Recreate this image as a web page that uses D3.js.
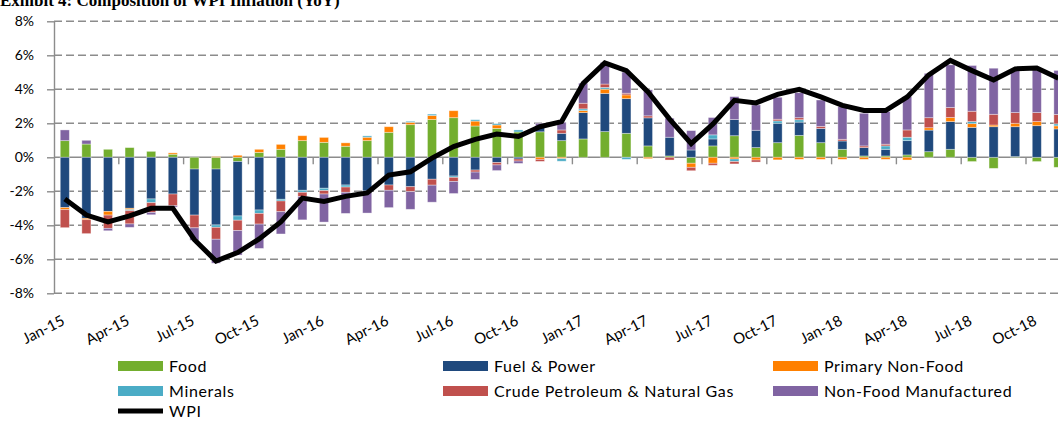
<!DOCTYPE html>
<html>
<head>
<meta charset="utf-8">
<title>Composition of WPI Inflation (YoY)</title>
<script src="https://d3js.org/d3.v7.min.js"></script>
<style>
  body { margin: 0; background: #fff; }
  svg { display: block; }
</style>
</head>
<body>
<div id="chart"></div>
<script>
// months shown on the category axis (the picture is cut just after Nov-18)
var months = ["Jan-15","Feb-15","Mar-15","Apr-15","May-15","Jun-15","Jul-15","Aug-15","Sep-15","Oct-15","Nov-15","Dec-15",
              "Jan-16","Feb-16","Mar-16","Apr-16","May-16","Jun-16","Jul-16","Aug-16","Sep-16","Oct-16","Nov-16","Dec-16",
              "Jan-17","Feb-17","Mar-17","Apr-17","May-17","Jun-17","Jul-17","Aug-17","Sep-17","Oct-17","Nov-17","Dec-17",
              "Jan-18","Feb-18","Mar-18","Apr-18","May-18","Jun-18","Jul-18","Aug-18","Sep-18","Oct-18","Nov-18"];

// contributions, percentage points
var food = [0.98,0.78,0.47,0.57,0.35,0.18,-0.69,-0.69,-0.25,0.29,0.47,0.98,
            0.88,0.65,0.98,1.47,1.92,2.22,2.33,1.84,1.70,1.49,1.50,0.98,
            1.08,1.51,1.41,0.67,0.08,-0.35,0.67,1.27,0.57,0.86,1.29,0.86,
            0.47,0.08,0.08,0.14,0.33,0.47,-0.25,-0.65,0.04,-0.25,-0.59];
var fuel = [-2.96,-3.59,-3.18,-3.00,-2.45,-2.16,-2.71,-3.29,-3.20,-3.10,-2.47,-1.94,
            -1.82,-1.63,-1.98,-1.63,-1.73,-1.29,-1.10,-0.75,-0.31,-0.10,0.30,0.43,
            1.55,2.25,2.04,1.65,1.10,0.43,0.41,0.95,1.02,1.14,0.78,0.84,
            0.49,0.49,0.39,0.84,1.27,1.63,1.76,1.80,1.76,1.86,1.67];
var primaryNonFood = [-0.12,-0.08,-0.22,-0.08,0,0.08,0,0.04,0.12,0.18,0.29,0.29,
            0.29,0.20,0.20,0.33,0.14,0.24,0.41,0.29,0.20,0,-0.12,-0.08,
            0.12,0.25,0.22,-0.08,0,-0.24,-0.35,-0.10,-0.16,-0.15,-0.12,-0.12,
            -0.12,-0.12,-0.12,-0.16,0.14,0.24,0.22,0.10,0.20,0.24,0.18];
var minerals = [0,0,0,-0.06,-0.22,0,0,-0.14,-0.25,-0.20,-0.10,-0.12,
            -0.14,-0.12,0.08,0,0.06,0.08,-0.08,0.08,0.08,0.12,0,-0.15,
            0.10,0.10,-0.12,0,0,0,0.24,-0.15,0,0.14,0.14,0,
            0,0,0.20,0.20,0,0,0.12,0,0,0,0.12];
var crude = [-1.06,-0.82,-0.78,-0.78,-0.57,-0.69,-0.75,-0.70,-0.61,-0.63,-0.63,-0.25,
            -0.20,-0.31,-0.05,-0.31,-0.29,-0.35,-0.24,-0.12,-0.14,-0.12,-0.12,0.20,
            0.33,0.20,0.10,0.12,-0.16,-0.20,-0.12,-0.14,-0.12,0.10,0.12,0.12,
            0.10,0.10,0.10,0.43,0.59,0.59,0.61,0.63,0.63,0.53,0.55];
var nonFoodMfg = [0.63,0.22,-0.14,-0.20,-0.14,-0.08,-0.73,-1.41,-1.44,-1.43,-1.31,-1.37,
            -1.65,-1.24,-1.25,-1.02,-1.04,-1.00,-0.71,-0.43,-0.33,-0.14,0.20,0.45,
            1.18,1.27,1.24,1.53,1.12,1.14,1.02,1.35,1.49,1.29,1.47,1.55,
            1.92,1.92,1.92,1.96,2.61,2.51,2.69,2.71,2.47,2.51,2.59];
// headline WPI inflation, %
var wpi = [-2.45,-3.40,-3.80,-3.45,-3.00,-3.00,-4.85,-6.10,-5.60,-4.80,-3.80,-2.40,
           -2.60,-2.30,-2.10,-1.05,-0.85,-0.05,0.63,1.05,1.37,1.22,1.80,2.10,
           4.35,5.55,5.10,3.85,2.25,0.80,1.95,3.35,3.20,3.70,4.00,3.55,
           3.05,2.75,2.75,3.55,4.85,5.70,5.10,4.55,5.20,5.25,4.65];

var seriesNames = ["Food", "Fuel & Power", "Primary Non-Food", "Minerals", "Crude Petroleum & Natural Gas", "Non-Food Manufactured"];
var seriesColors = ["#73AE2E", "#1F497D", "#FF8000", "#4BACC6", "#C0504D", "#8064A2"];
var yTicks = [-8, -6, -4, -2, 0, 2, 4, 6, 8];
var xLabelMonths = months.filter(function(d, i) { return i % 3 === 0; });

var width = 1058, height = 421;
var left = 54, step = 21.6;

var svg = d3.select("#chart").append("svg")
    .attr("width", width)
    .attr("height", height);

var x = d3.scaleBand()
    .domain(months)
    .range([left, left + step * months.length])
    .paddingInner(0.58)
    .paddingOuter(0.29);

var y = d3.scaleLinear()
    .domain([-8, 8])
    .range([293.3, 21.3]);

// title (cut off at the top of the picture)
svg.append("text")
    .attr("x", 0)
    .attr("y", 6)
    .attr("font-family", "Liberation Serif, Times New Roman, serif")
    .attr("font-weight", "bold")
    .attr("font-size", 17)
    .text("Exhibit 4: Composition of WPI Inflation (YoY)");

// dashed gridlines
svg.append("g")
    .selectAll("line")
    .data(yTicks.filter(function(d) { return d !== 0; }))
    .enter()
    .append("line")
    .attr("x1", left)
    .attr("x2", width)
    .attr("y1", function(d) { return y(d); })
    .attr("y2", function(d) { return y(d); })
    .attr("stroke", "#8c8c8c")
    .attr("stroke-width", 1.4)
    .attr("stroke-dasharray", "8,4");

// y axis
var yAxis = svg.append("g")
    .attr("transform", "translate(" + left + ",0)")
    .call(d3.axisLeft(y)
        .tickValues(yTicks)
        .tickSize(7)
        .tickSizeOuter(0)
        .tickPadding(13)
        .tickFormat(function(d) { return d + "%"; }));
yAxis.select(".domain").attr("stroke", "#8c8c8c").attr("stroke-width", 1.4);
yAxis.selectAll(".tick line").attr("stroke", "#8c8c8c").attr("stroke-width", 1.4);
yAxis.selectAll("text")
    .attr("font-family", "Lato, sans-serif")
    .attr("font-size", 14)
    .attr("fill", "#000");

// zero line
svg.append("line")
    .attr("x1", left)
    .attr("x2", x.range()[1])
    .attr("y1", y(0))
    .attr("y2", y(0))
    .attr("stroke", "#8c8c8c")
    .attr("stroke-width", 1.6);

// category tick marks every third month
svg.append("g")
    .selectAll("line")
    .data(xLabelMonths.slice(1))
    .enter()
    .append("line")
    .attr("x1", function(d) { return x(d) - x.step() * 0.29; })
    .attr("x2", function(d) { return x(d) - x.step() * 0.29; })
    .attr("y1", y(0))
    .attr("y2", y(0) + 7)
    .attr("stroke", "#8c8c8c")
    .attr("stroke-width", 1.4);

// category labels at the bottom
svg.append("g")
    .selectAll("text")
    .data(xLabelMonths)
    .enter()
    .append("text")
    .attr("transform", function(d) {
        return "translate(" + (x(d) + x.bandwidth() / 2 + 1) + ",324) rotate(-27)";
    })
    .attr("text-anchor", "end")
    .attr("font-family", "Lato, sans-serif")
    .attr("font-size", 15)
    .text(function(d) { return d; });

// stacked bars
var keys = ["food", "fuel", "primaryNonFood", "minerals", "crude", "nonFoodMfg"];
var rows = months.map(function(m, i) {
    return {
        month: m,
        food: food[i],
        fuel: fuel[i],
        primaryNonFood: primaryNonFood[i],
        minerals: minerals[i],
        crude: crude[i],
        nonFoodMfg: nonFoodMfg[i]
    };
});

var stacked = d3.stack()
    .keys(keys)
    .offset(d3.stackOffsetDiverging)(rows);

var layers = svg.append("g")
    .selectAll("g")
    .data(stacked)
    .enter()
    .append("g")
    .attr("fill", function(d, i) { return seriesColors[i]; });

layers.selectAll("rect")
    .data(function(d) { return d; })
    .enter()
    .append("rect")
    .attr("x", function(d) { return x(d.data.month); })
    .attr("width", x.bandwidth())
    .attr("y", function(d) { return y(Math.max(d[0], d[1])); })
    .attr("height", function(d) { return Math.abs(y(d[0]) - y(d[1])); })
    .attr("stroke", "#fff")
    .attr("stroke-opacity", 0.45)
    .attr("stroke-width", 0.8);

// WPI line
var wpiLine = d3.line()
    .x(function(d, i) { return x(months[i]) + x.bandwidth() / 2; })
    .y(function(d) { return y(d); });

svg.append("path")
    .datum(wpi)
    .attr("d", wpiLine)
    .attr("fill", "none")
    .attr("stroke", "#000")
    .attr("stroke-width", 5)
    .attr("stroke-linejoin", "miter");

// legend
var legendItems = [
    { name: seriesNames[0], color: seriesColors[0], col: 0, row: 0 },
    { name: seriesNames[1], color: seriesColors[1], col: 1, row: 0 },
    { name: seriesNames[2], color: seriesColors[2], col: 2, row: 0 },
    { name: seriesNames[3], color: seriesColors[3], col: 0, row: 1 },
    { name: seriesNames[4], color: seriesColors[4], col: 1, row: 1 },
    { name: seriesNames[5], color: seriesColors[5], col: 2, row: 1 },
    { name: "WPI", color: "#000", col: 0, row: 2, line: true }
];
var colX = [118, 443, 773];
var rowY = [366, 391, 411];

var legend = svg.append("g")
    .selectAll("g")
    .data(legendItems)
    .enter()
    .append("g")
    .attr("transform", function(d) { return "translate(" + colX[d.col] + "," + rowY[d.row] + ")"; });

legend.filter(function(d) { return !d.line; })
    .append("rect")
    .attr("x", 0)
    .attr("y", -5)
    .attr("width", 45)
    .attr("height", 10)
    .attr("fill", function(d) { return d.color; });

legend.filter(function(d) { return d.line; })
    .append("line")
    .attr("x1", 0)
    .attr("x2", 45)
    .attr("y1", 0)
    .attr("y2", 0)
    .attr("stroke", "#000")
    .attr("stroke-width", 5);

legend.append("text")
    .attr("x", 51)
    .attr("y", 0)
    .attr("dy", "0.36em")
    .attr("font-family", "Lato, sans-serif")
    .attr("font-size", 16)
    .attr("letter-spacing", 0.65)
    .text(function(d) { return d.name; });
</script>
</body>
</html>
